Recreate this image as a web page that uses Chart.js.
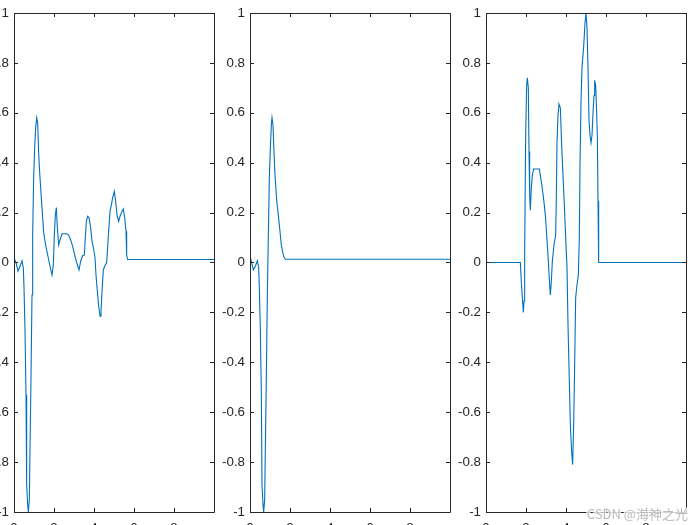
<!DOCTYPE html>
<html>
<head>
<meta charset="utf-8">
<script src="https://cdn.jsdelivr.net/npm/chart.js@4.4.1/dist/chart.umd.min.js"></script>
<style>
html,body{margin:0;padding:0;width:700px;height:525px;overflow:hidden;background:#fff;}
canvas{position:absolute;top:0;}
</style>
</head>
<body>
<canvas id="c1"></canvas>
<canvas id="c2"></canvas>
<canvas id="c3"></canvas>
<script>
// ---- data ----
const xTickValues = [0, 2, 4, 6, 8, 10];
const yTickValues = [-1, -0.8, -0.6, -0.4, -0.2, 0, 0.2, 0.4, 0.6, 0.8, 1];

const p1x = [0,0.1,0.2,0.3,0.4,0.467,0.5,0.55,0.6,0.633,0.683,0.717,0.767,0.8,0.85,0.9,0.933,0.983,1.033,1.083,1.133,1.183,1.233,1.283,1.333,1.383,1.433,1.483,1.583,1.683,1.8,1.9,1.967,2.017,2.067,2.117,2.167,2.233,2.3,2.4,2.633,2.733,2.833,2.933,3.033,3.133,3.25,3.333,3.433,3.517,3.567,3.617,3.683,3.75,3.833,3.9,3.967,4.05,4.1,4.167,4.233,4.3,4.35,4.4,4.467,4.533,4.633,4.683,4.733,4.8,4.867,4.933,5.017,5.083,5.15,5.233,5.3,5.4,5.467,5.533,5.6,5.633,5.683,10];
const p1y = [0.018,0.0,-0.035,-0.015,0.007,-0.022,-0.10,-0.27,-0.53,-0.89,-0.97,-1.0,-0.95,-0.75,-0.46,-0.13,0.11,0.34,0.46,0.54,0.58,0.56,0.44,0.36,0.30,0.24,0.18,0.12,0.07,0.03,-0.015,-0.05,-0.01,0.11,0.19,0.22,0.14,0.07,0.09,0.115,0.115,0.11,0.09,0.065,0.03,0.0,-0.03,0.005,0.027,0.03,0.10,0.165,0.185,0.18,0.14,0.085,0.06,0.02,-0.05,-0.115,-0.175,-0.215,-0.195,-0.115,-0.03,-0.015,0.0,0.06,0.125,0.205,0.23,0.26,0.285,0.245,0.19,0.165,0.185,0.205,0.215,0.18,0.125,0.03,0.012,0.012];

const p2x = [0,0.067,0.167,0.267,0.367,0.433,0.467,0.517,0.567,0.6,0.65,0.683,0.733,0.767,0.817,0.867,0.917,0.967,1.017,1.067,1.1,1.15,1.2,1.25,1.3,1.35,1.417,1.467,1.517,1.567,1.617,1.683,1.767,10];
const p2y = [0.025,0.005,-0.03,-0.015,0.007,-0.02,-0.10,-0.27,-0.53,-0.89,-0.97,-1.0,-0.95,-0.75,-0.46,-0.13,0.11,0.34,0.46,0.55,0.58,0.55,0.44,0.35,0.29,0.235,0.19,0.15,0.11,0.07,0.05,0.025,0.013,0.013];

const p3x = [0,1.717,1.767,1.817,1.867,1.9,1.933,1.983,2.033,2.067,2.117,2.15,2.183,2.217,2.267,2.317,2.383,2.667,2.717,2.783,2.85,2.917,2.983,3.05,3.117,3.167,3.217,3.267,3.317,3.4,3.483,3.517,3.55,3.6,3.65,3.717,3.783,3.85,3.917,3.983,4.05,4.1,4.167,4.217,4.283,4.333,4.383,4.433,4.483,4.55,4.617,4.667,4.7,4.75,4.8,4.883,4.95,5.0,5.05,5.1,5.15,5.2,5.25,5.3,5.35,5.4,5.433,5.483,5.533,5.567,5.6,5.633,10];
const p3y = [0,0,-0.08,-0.14,-0.2,-0.155,0.045,0.51,0.71,0.74,0.70,0.445,0.27,0.21,0.30,0.35,0.375,0.375,0.35,0.315,0.275,0.23,0.175,0.09,0.005,-0.07,-0.13,-0.075,0.005,0.07,0.11,0.26,0.48,0.59,0.635,0.62,0.47,0.35,0.23,0.10,-0.02,-0.25,-0.475,-0.65,-0.76,-0.81,-0.65,-0.41,-0.14,-0.09,-0.05,0.10,0.39,0.645,0.78,0.865,0.96,1.0,0.94,0.78,0.57,0.51,0.48,0.51,0.60,0.67,0.73,0.71,0.60,0.51,0.245,0,0];

const watermark = 'CSDN @海神之光';

// ---- drawing ----
const AX = '#262626';
const LINE = '#0072BD';
const FONT = {family: '"Liberation Sans", Arial, Helvetica, sans-serif', size: 13.33};

const boxPlugin = {
  id: 'matlabBox',
  afterDraw(chart) {
    const {ctx, chartArea: a, scales} = chart;
    ctx.save();
    ctx.strokeStyle = AX;
    ctx.lineWidth = 1;
    ctx.beginPath();
    ctx.rect(a.left + 0.5, a.top + 0.5, a.right - a.left, a.bottom - a.top);
    const tl = 4;
    scales.x.ticks.forEach(t => {
      const px = Math.round(scales.x.getPixelForValue(t.value)) + 0.5;
      ctx.moveTo(px, a.bottom); ctx.lineTo(px, a.bottom - tl);
      ctx.moveTo(px, a.top); ctx.lineTo(px, a.top + tl);
    });
    scales.y.ticks.forEach(t => {
      const py = Math.round(scales.y.getPixelForValue(t.value)) + 0.5;
      ctx.moveTo(a.left, py); ctx.lineTo(a.left + tl, py);
      ctx.moveTo(a.right, py); ctx.lineTo(a.right - tl, py);
    });
    ctx.stroke();
    const mark = chart.options.plugins.matlabBox && chart.options.plugins.matlabBox.mark;
    if (mark) {
      ctx.font = '13px "Noto Sans CJK SC", "Liberation Sans", sans-serif';
      ctx.textAlign = 'right';
      ctx.textBaseline = 'middle';
      ctx.lineWidth = 3;
      ctx.strokeStyle = 'rgba(255,255,255,0.8)';
      ctx.strokeText(mark, a.right + 2, 514);
      ctx.fillStyle = 'rgba(175,175,175,0.85)';
      ctx.fillText(mark, a.right + 2, 514);
    }
    ctx.restore();
  }
};

function fmtY(v) {
  const r = Math.round(v * 10) / 10;
  return r === 0 ? '0' : String(r);
}

function makePanel(id, plotLeft, xs, ys, padRight, mark) {
  const YW = 40;
  const canvas = document.getElementById(id);
  canvas.width = YW + 200 + padRight;
  canvas.height = 540;
  canvas.style.left = (plotLeft - YW) + 'px';
  const pts = xs.map((x, i) => ({x: x, y: ys[i]}));
  new Chart(canvas, {
    type: 'line',
    data: {datasets: [{data: pts, borderColor: LINE, borderWidth: 1.1, pointRadius: 0, tension: 0, fill: false}]},
    options: {
      responsive: false, animation: false, devicePixelRatio: 1,
      layout: {padding: {left: 0, right: padRight, top: 11, bottom: 0}},
      plugins: {legend: {display: false}, tooltip: {enabled: false}, matlabBox: {mark: mark}},
      scales: {
        x: {
          type: 'linear', min: 0, max: 10,
          afterBuildTicks: s => { s.ticks = xTickValues.map(v => ({value: v})); },
          afterFit: s => { s.height = 28; },
          grid: {display: false, drawTicks: false}, border: {display: false},
          ticks: {autoSkip: false, maxRotation: 0, padding: 8, color: AX, font: FONT,
                  callback: v => (v === 10 ? '' : String(v))}
        },
        y: {
          type: 'linear', min: -1, max: 1,
          afterBuildTicks: s => { s.ticks = yTickValues.map(v => ({value: v})); },
          afterFit: s => { s.width = YW; },
          grid: {display: false, drawTicks: false}, border: {display: false},
          ticks: {autoSkip: false, padding: 5, color: AX, font: FONT, callback: v => fmtY(v)}
        }
      }
    },
    plugins: [boxPlugin]
  });
}

makePanel('c1', 14, p1x, p1y, 10, null);
makePanel('c2', 250, p2x, p2y, 10, null);
makePanel('c3', 486, p3x, p3y, 14, watermark);
</script>
</body>
</html>
